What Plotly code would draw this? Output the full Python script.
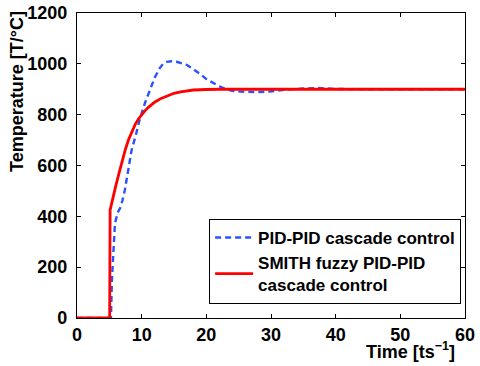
import plotly.graph_objects as go

# Data
t_pid = [0, 5.25, 5.4, 5.6, 5.87, 6.3, 6.65, 7.0, 7.4, 7.93, 8.45, 9.1, 9.74, 10.5,
         11.3, 12.0, 12.8, 13.3, 13.9, 14.6, 15.4, 16.2, 16.95, 17.7, 18.5, 19.3,
         20.0, 20.8, 21.6, 22.3, 23.1, 24.0, 25.2, 27.5, 29.8, 31, 32, 35, 37.3,
         40, 45, 60]
y_pid = [0, 0, 150, 268, 373, 415, 432, 460, 504, 583, 661, 720, 785, 845,
         898, 945, 983, 1000, 1008, 1010, 1008, 1003, 996, 984, 970, 955,
         940, 928, 917, 908, 900, 894, 891, 889, 891, 895, 898, 903, 905,
         901, 900, 900]

t_smith = [0, 5.05, 5.12, 5.5, 6.0, 6.5, 7.0, 7.5, 8.0, 8.5, 9.0, 9.5, 10.0,
           10.5, 11.0, 11.5, 12.0, 13.0, 14.0, 15.0, 16.0, 17.0, 18.0, 20.0,
           22.0, 60]
y_smith = [0, 0, 425, 470, 520, 570, 620, 665, 703, 735, 762, 783, 800,
           815, 828, 840, 849, 864, 875, 884, 890, 894, 897, 899,
           900, 900]

x_ticks = [0, 10, 20, 30, 40, 50, 60]
y_ticks = [0, 200, 400, 600, 800, 1000, 1200]

names = ["PID-PID cascade control", "SMITH fuzzy PID-PID<br>cascade control"]

FONT = "Liberation Sans, Arial, sans-serif"
FS = 18

fig = go.Figure()
fig.add_trace(go.Scatter(x=t_pid, y=y_pid, mode="lines", name=names[0],
                         line=dict(color="#2a52ff", width=2.4, dash="6px,4px")))
fig.add_trace(go.Scatter(x=t_smith, y=y_smith, mode="lines", name=names[1],
                         line=dict(color="#ff0000", width=2.8)))

axis_common = dict(showline=True, linecolor="black", linewidth=1.3, mirror="ticks",
                   ticks="inside", ticklen=4, tickcolor="black", showgrid=False,
                   zeroline=False, automargin=False, ticklabeloverflow="allow",
                   tickfont=dict(family=FONT, size=FS, color="black", weight="bold"))

fig.update_xaxes(range=[0, 60], tickvals=x_ticks, **axis_common)
fig.update_yaxes(range=[0, 1200], tickvals=y_ticks, ticklabelstandoff=5, **axis_common)

fig.update_layout(
    width=480, height=366,
    margin=dict(l=77, r=15, t=13, b=48),
    paper_bgcolor="white", plot_bgcolor="white",
    showlegend=True,
    legend=dict(x=0.99, y=0.046, xanchor="right", yanchor="bottom",
                bgcolor="white", bordercolor="black", borderwidth=1,
                font=dict(family=FONT, size=FS - 1, color="black", weight="bold"),
                tracegroupgap=0, itemwidth=38),
    annotations=[
        dict(text="Temperature [T/°C]", xref="paper", yref="paper",
             x=-0.155, y=0.744, textangle=-90, showarrow=False,
             xanchor="center", yanchor="middle",
             font=dict(family=FONT, size=FS, color="black", weight="bold")),
        dict(text="Time [ts<sup>−1</sup>]", xref="paper", yref="paper",
             x=0.979, y=-0.106, showarrow=False, xanchor="right", yanchor="middle",
             font=dict(family=FONT, size=FS, color="black", weight="bold")),
    ],
)

fig.write_html("out.html",
               config={"displayModeBar": False},
               post_script="document.body.style.margin='0';"
                           "document.body.style.overflow='hidden';")
